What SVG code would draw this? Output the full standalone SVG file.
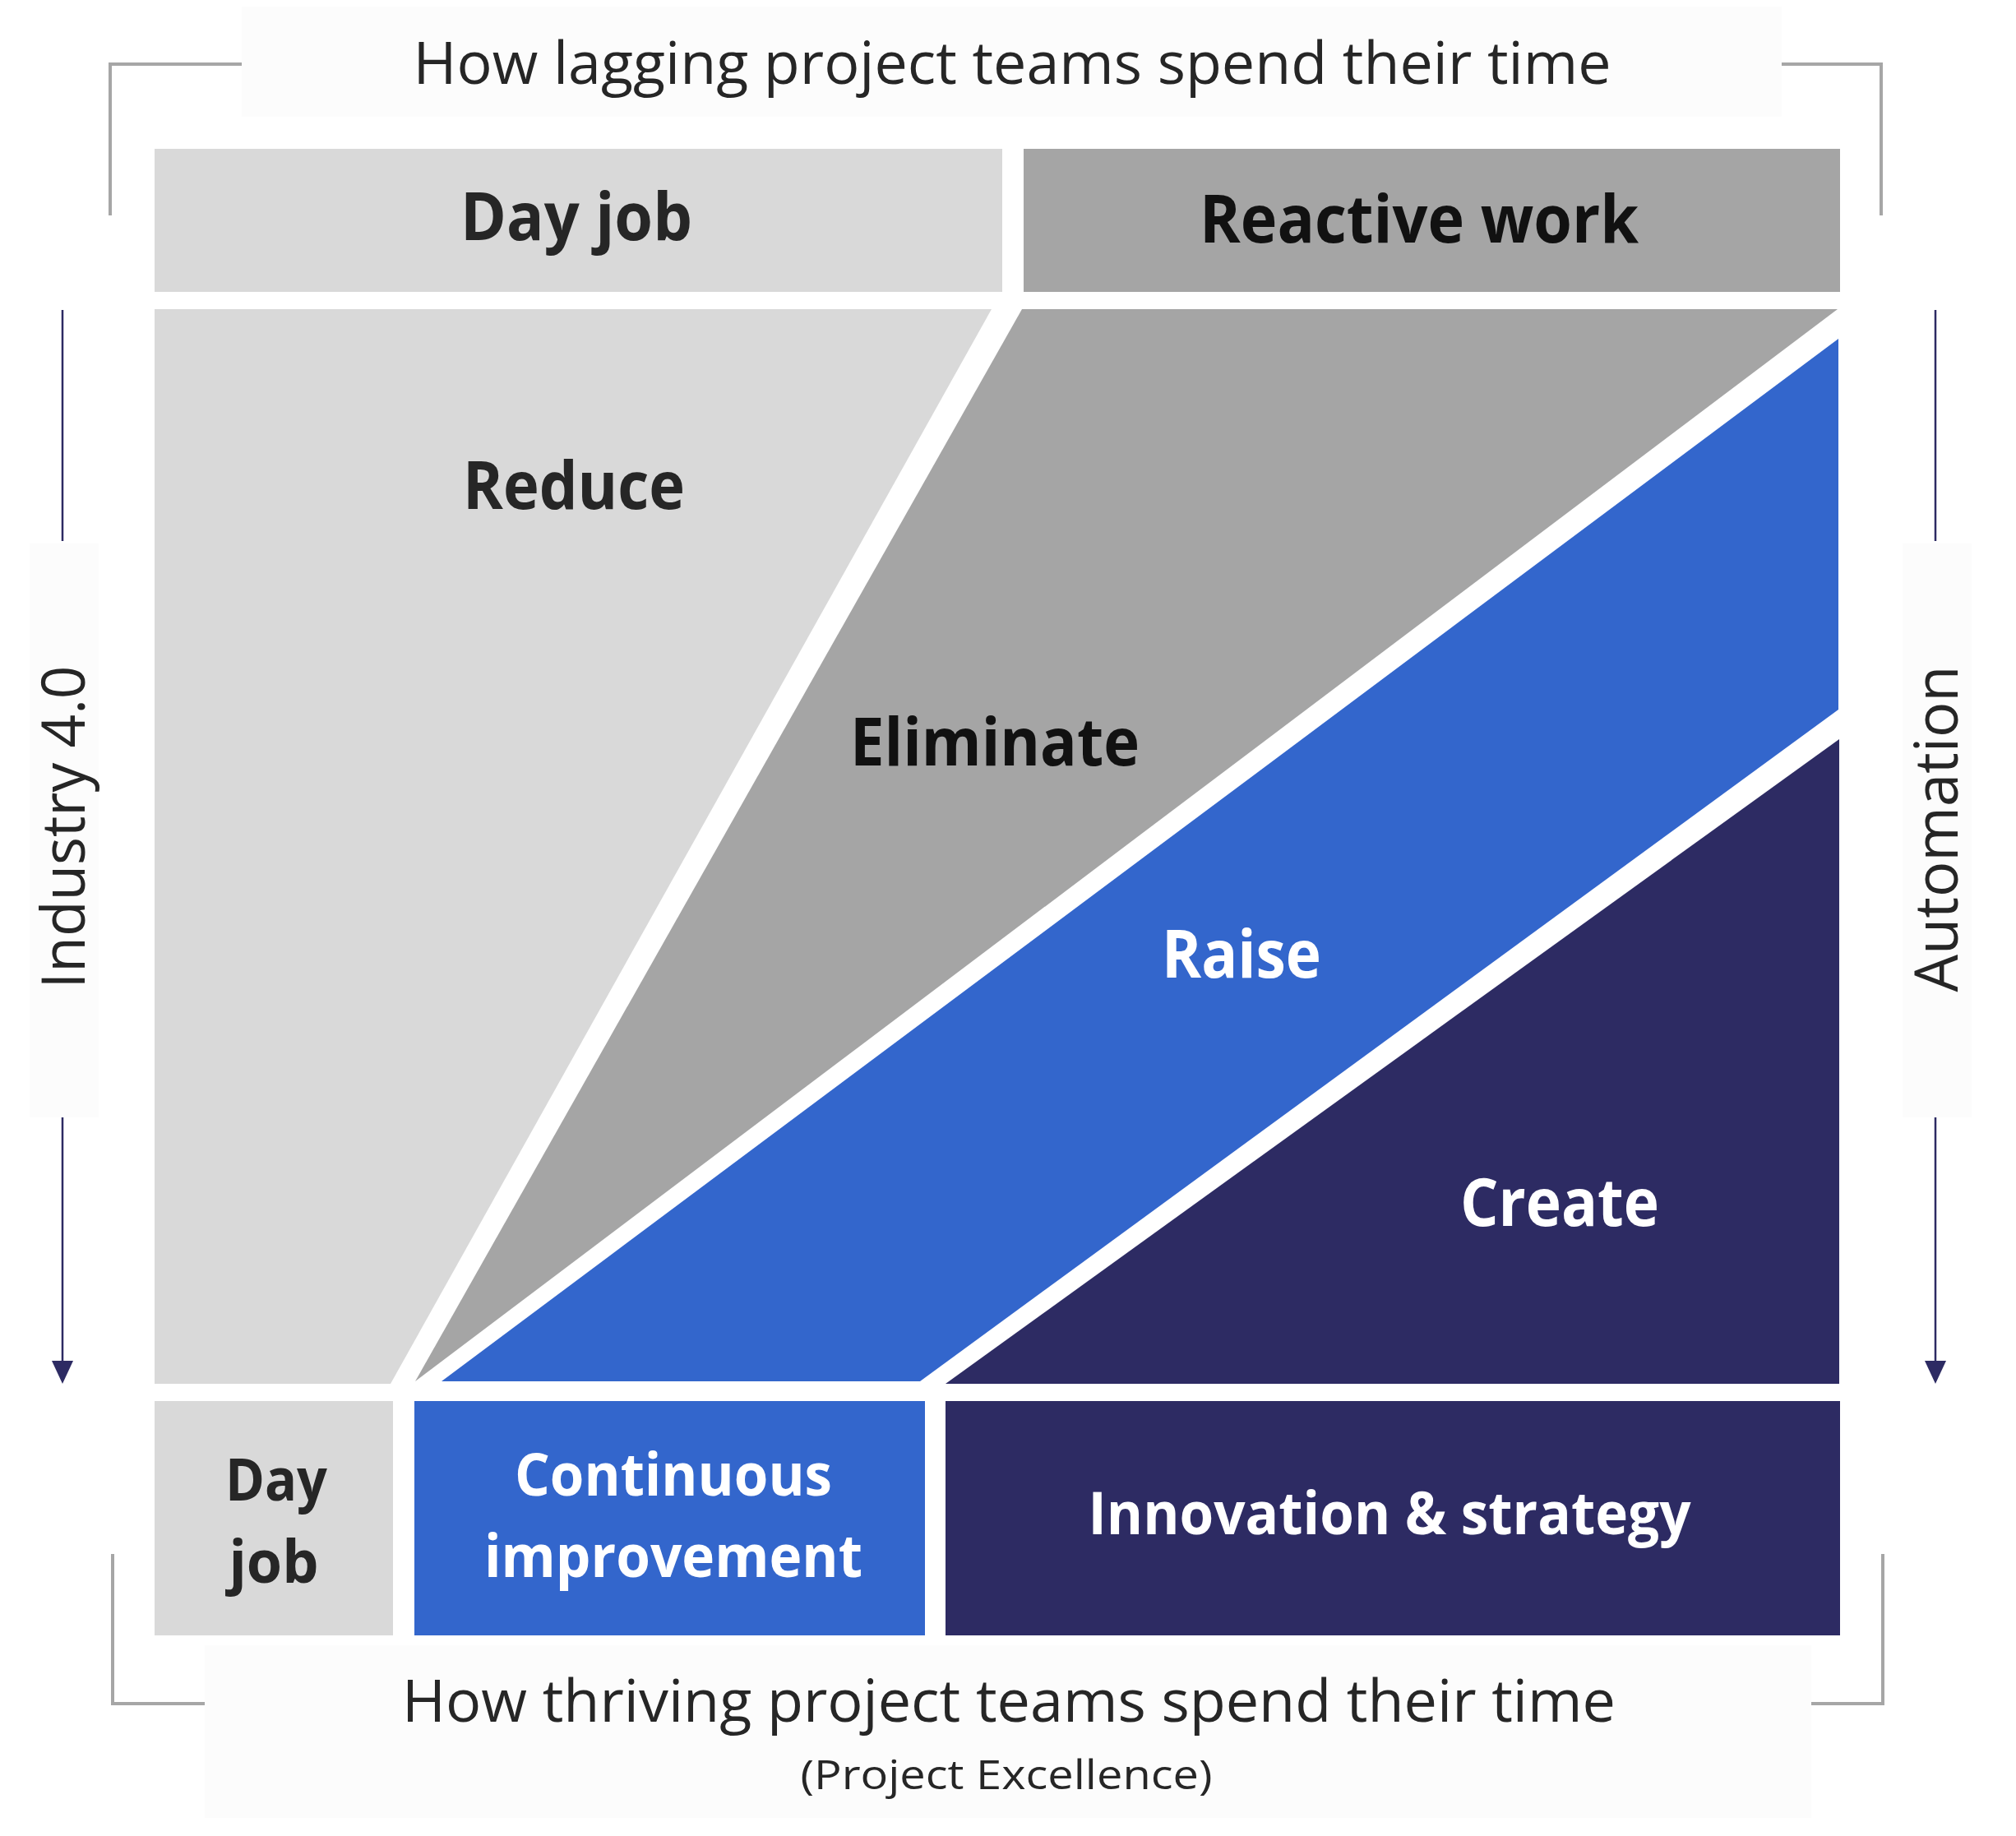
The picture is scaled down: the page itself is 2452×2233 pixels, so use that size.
<svg xmlns="http://www.w3.org/2000/svg" width="2452" height="2233" viewBox="0 0 2452 2233">
<defs>
<style>
.bg{fill:#fcfcfc}
.br{fill:none;stroke:#a6a6a6;stroke-width:4}
.ax{fill:none;stroke:#2d2b63;stroke-width:2.5}
.ah{fill:#2d2b63}
.lg{fill:#d9d9d9}
.dg{fill:#a5a5a5}
.bl{fill:#3366cc}
.nv{fill:#2d2b63}
text{font-family:"Open Sans","Noto Sans","Liberation Sans",sans-serif;text-anchor:middle}
.t{font-size:72px;fill:#262626}
.s{font-size:49px;fill:#262626}
.b{font-size:80px;font-weight:700}
.bs{font-size:71px;font-weight:700}
.k{fill:#262626}
.kk{fill:#111111}
.w{fill:#ffffff}
.side{font-size:74px;fill:#262626}
</style>
</defs>
<g id="top-title">
<rect class="bg" x="294" y="8" width="1873" height="134"/>
<polyline class="br" points="134,262 134,78 294,78"/>
<polyline class="br" points="2167,78 2288,78 2288,262"/>
<text class="t" x="1231" y="102" textLength="1457" lengthAdjust="spacingAndGlyphs">How lagging project teams spend their time</text>
</g>
<g id="hdr-dayjob">
<rect class="lg" x="188" y="181" width="1031" height="174"/>
<text class="b k" x="701" y="292" textLength="282" lengthAdjust="spacingAndGlyphs">Day job</text>
</g>
<g id="hdr-reactive">
<rect class="dg" x="1245" y="181" width="993" height="174"/>
<text class="b kk" x="1726" y="295" textLength="534" lengthAdjust="spacingAndGlyphs">Reactive work</text>
</g>
<g id="reduce">
<polygon class="lg" points="188,376 1206,376 475,1683 188,1683"/>
<text class="b k" x="698" y="619" textLength="270" lengthAdjust="spacingAndGlyphs">Reduce</text>
</g>
<g id="eliminate">
<polygon class="dg" points="1243,376 2235,376 505,1680"/>
<text class="b kk" x="1210" y="931" textLength="352" lengthAdjust="spacingAndGlyphs">Eliminate</text>
</g>
<g id="raise">
<polygon class="bl" points="2236,412 2236,863 1119,1680 537,1680"/>
<text class="b w" x="1510" y="1189" textLength="194" lengthAdjust="spacingAndGlyphs">Raise</text>
</g>
<g id="create">
<polygon class="nv" points="2237,899 2237,1683 1150,1683"/>
<text class="b w" x="1897" y="1491" textLength="242" lengthAdjust="spacingAndGlyphs">Create</text>
</g>
<g id="bot-dayjob">
<rect class="lg" x="188" y="1704" width="290" height="285"/>
<text class="bs k" x="336" y="1825" textLength="124" lengthAdjust="spacingAndGlyphs">Day</text>
<text class="bs k" x="333" y="1925" textLength="109" lengthAdjust="spacingAndGlyphs">job</text>
</g>
<g id="bot-continuous">
<rect class="bl" x="504" y="1704" width="621" height="285"/>
<text class="bs w" x="819" y="1819" textLength="386" lengthAdjust="spacingAndGlyphs">Continuous</text>
<text class="bs w" x="819" y="1918" textLength="460" lengthAdjust="spacingAndGlyphs">improvement</text>
</g>
<g id="bot-innovation">
<rect class="nv" x="1150" y="1704" width="1088" height="285"/>
<text class="bs w" x="1690" y="1866" textLength="733" lengthAdjust="spacingAndGlyphs">Innovation &amp; strategy</text>
</g>
<g id="bottom-title">
<rect class="bg" x="249" y="2001" width="1954" height="210"/>
<polyline class="br" points="137,1890 137,2072 249,2072"/>
<polyline class="br" points="2203,2072 2290,2072 2290,1890"/>
<text class="t" x="1227" y="2094" textLength="1476" lengthAdjust="spacingAndGlyphs">How thriving project teams spend their time</text>
<text class="s" x="1224" y="2176" textLength="501" lengthAdjust="spacingAndGlyphs">(Project Excellence)</text>
</g>
<g id="industry">
<rect class="bg" x="36" y="661" width="84" height="698"/>
<text class="side" transform="translate(103,1006) rotate(-90)" x="0" y="0" textLength="393" lengthAdjust="spacingAndGlyphs">Industry 4.0</text>
</g>
<g id="automation">
<rect class="bg" x="2314" y="661" width="84" height="698"/>
<text class="side" transform="translate(2381,1008) rotate(-90)" x="0" y="0" textLength="397" lengthAdjust="spacingAndGlyphs">Automation</text>
</g>
<g id="connectors">
<line class="ax" x1="76" y1="377" x2="76" y2="658"/>
<line class="ax" x1="76" y1="1359" x2="76" y2="1658"/>
<polygon class="ah" points="63,1655 89,1655 76,1683"/>
<line class="ax" x1="2354" y1="377" x2="2354" y2="658"/>
<line class="ax" x1="2354" y1="1359" x2="2354" y2="1658"/>
<polygon class="ah" points="2341,1655 2367,1655 2354,1683"/>
</g>
</svg>
